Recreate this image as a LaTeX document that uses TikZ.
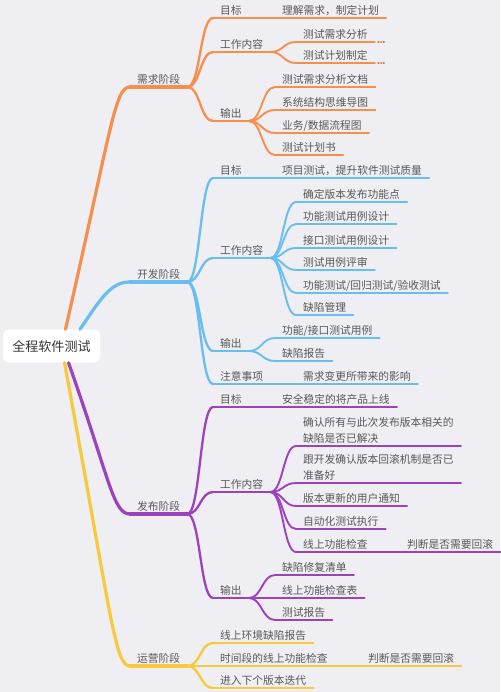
\documentclass[tikz,border=0pt]{standalone}
\usepackage{fontspec}
\setmainfont{Noto Sans CJK SC}
\usetikzlibrary{calc}
\definecolor{bg}{RGB}{239,238,243}
\definecolor{txt}{RGB}{88,88,88}
\definecolor{roottxt}{RGB}{50,50,50}
\definecolor{corange}{RGB}{246,143,77}
\definecolor{cblue}{RGB}{104,190,240}
\definecolor{cpurple}{RGB}{156,66,188}
\definecolor{cyellow}{RGB}{248,201,58}
\definecolor{cdots}{RGB}{232,96,48}
\colorlet{brc}{corange}
\newcommand{\twoline}[2]{\begin{tabular}[b]{@{}l@{}}#1\\#2\end{tabular}}
\tikzset{
  lbl/.style={anchor=south west, inner xsep=7pt, inner ysep=3pt, text depth=0pt, text height=8.5pt,
    font=\fontsize{10.75pt}{16pt}\selectfont, text=txt},
  n1/.style={lbl, append after command={(\tikzlastnode.south west) edge[draw=brc, line width=3.2pt, line cap=round] (\tikzlastnode.south east)}},
  n2/.style={lbl, append after command={(\tikzlastnode.south west) edge[draw=brc, line width=2.3pt, line cap=round] (\tikzlastnode.south east)}},
  n3/.style={lbl, append after command={(\tikzlastnode.south west) edge[draw=brc, line width=1.9pt, line cap=round] (\tikzlastnode.south east)}},
  sc/.style={to path={.. controls ($(\tikztostart)!0.5!(\tikztotarget|-\tikztostart)$) and ($(\tikztotarget)!0.5!(\tikztostart|-\tikztotarget)$) .. (\tikztotarget)}},
  c1/.style={draw=brc, line width=3.2pt, line cap=round},
  c2/.style={draw=brc, line width=2.3pt, line cap=round, sc},
  c3/.style={draw=brc, line width=1.9pt, line cap=round, sc},
  rootbox/.style={fill=white, rounded corners=5pt, minimum width=97pt, minimum height=33pt, inner sep=0pt,
    font=\fontsize{13pt}{15pt}\selectfont, text=roottxt},
}
\begin{document}
\begin{tikzpicture}[x=1pt, y=-1pt]
\fill[bg] (0,0) rectangle (500,692);
\useasboundingbox (0,0) rectangle (500,692);

% ---------- 需求阶段 (orange) ----------
\colorlet{brc}{corange}
\node[n1] (s1) at (130,87) {需求阶段};
\node[n2] (s1g) at (213,18) {目标};
\node[n3] (s1gl) at (275,18) {理解需求，制定计划};
\node[n2] (s1w) at (213,52) {工作内容};
\node[n3] (s1w1) at (296,42) {测试需求分析};
\node[n3] (s1w2) at (296,63) {测试计划制定};
\node[n2] (s1o) at (213,121) {输出};
\node[n3] (s1o1) at (275,87) {测试需求分析文档};
\node[n3] (s1o2) at (275,110) {系统结构思维导图};
\node[n3] (s1o3) at (275,133) {业务/数据流程图};
\node[n3] (s1o4) at (275,155) {测试计划书};
\draw[c2] (s1.south east) to (s1g.south west);
\draw[c2] (s1.south east) to (s1w.south west);
\draw[c2] (s1.south east) to (s1o.south west);
\draw[c3] (s1g.south east) to (s1gl.south west);
\draw[c3] (s1w.south east) to (s1w1.south west);
\draw[c3] (s1w.south east) to (s1w2.south west);
\draw[c3] (s1o.south east) to (s1o1.south west);
\draw[c3] (s1o.south east) to (s1o2.south west);
\draw[c3] (s1o.south east) to (s1o3.south west);
\draw[c3] (s1o.south east) to (s1o4.south west);
\foreach \k in {0,1,2} {
  \fill[cdots] ([xshift={3.5+2.7*\k}]s1w1.south east) circle (1.1pt);
  \fill[cdots] ([xshift={3.5+2.7*\k}]s1w2.south east) circle (1.1pt);
}

% ---------- 开发阶段 (blue) ----------
\colorlet{brc}{cblue}
\node[n1] (s2) at (130,282) {开发阶段};
\node[n2] (s2g) at (213,178) {目标};
\node[n3] (s2gl) at (275,178) {项目测试，提升软件测试质量};
\node[n2] (s2w) at (213,258) {工作内容};
\node[n3] (s2w1) at (296,202) {确定版本发布功能点};
\node[n3] (s2w2) at (296,224) {功能测试用例设计};
\node[n3] (s2w3) at (296,248) {接口测试用例设计};
\node[n3] (s2w4) at (296,270) {测试用例评审};
\node[n3] (s2w5) at (296,293) {功能测试/回归测试/验收测试};
\node[n3] (s2w6) at (296,315) {缺陷管理};
\node[n2] (s2o) at (213,351) {输出};
\node[n3] (s2o1) at (275,338) {功能/接口测试用例};
\node[n3] (s2o2) at (275,361) {缺陷报告};
\node[n2] (s2n) at (213,384) {注意事项};
\node[n3] (s2nl) at (296,384) {需求变更所带来的影响};
\draw[c2] (s2.south east) to (s2g.south west);
\draw[c2] (s2.south east) to (s2w.south west);
\draw[c2] (s2.south east) to (s2o.south west);
\draw[c2] (s2.south east) to (s2n.south west);
\draw[c3] (s2g.south east) to (s2gl.south west);
\foreach \c in {s2w1,s2w2,s2w3,s2w4,s2w5,s2w6}
  \draw[c3] (s2w.south east) to (\c.south west);
\draw[c3] (s2o.south east) to (s2o1.south west);
\draw[c3] (s2o.south east) to (s2o2.south west);
\draw[c3] (s2n.south east) to (s2nl.south west);

% ---------- 发布阶段 (purple) ----------
\colorlet{brc}{cpurple}
\node[n1] (s3) at (130,514) {发布阶段};
\node[n2] (s3g) at (213,407) {目标};
\node[n3] (s3gl) at (275,407) {安全稳定的将产品上线};
\node[n2] (s3w) at (213,492) {工作内容};
\node[n3] (s3w1) at (296,446) {\twoline{确认所有与此次发布版本相关的}{缺陷是否已解决}};
\node[n3] (s3w2) at (296,483) {\twoline{跟开发确认版本回滚机制是否已}{准备好}};
\node[n3] (s3w3) at (296,506) {版本更新的用户通知};
\node[n3] (s3w4) at (296,529) {自动化测试执行};
\node[n3] (s3w5) at (296,552) {线上功能检查};
\node[n3] (s3w5l) at (400,552) {判断是否需要回滚};
\node[n2] (s3o) at (213,598) {输出};
\node[n3] (s3o1) at (275,575) {缺陷修复清单};
\node[n3] (s3o2) at (275,598) {线上功能检查表};
\node[n3] (s3o3) at (275,620) {测试报告};
\draw[c2] (s3.south east) to (s3g.south west);
\draw[c2] (s3.south east) to (s3w.south west);
\draw[c2] (s3.south east) to (s3o.south west);
\draw[c3] (s3g.south east) to (s3gl.south west);
\foreach \c in {s3w1,s3w2,s3w3,s3w4,s3w5}
  \draw[c3] (s3w.south east) to (\c.south west);
\draw[c3] (s3w5.south east) to (s3w5l.south west);
\draw[c3] (s3o.south east) to (s3o1.south west);
\draw[c3] (s3o.south east) to (s3o2.south west);
\draw[c3] (s3o.south east) to (s3o3.south west);

% ---------- 运营阶段 (yellow) ----------
\colorlet{brc}{cyellow}
\node[n1] (s4) at (130,666) {运营阶段};
\node[n2] (s4a) at (213,643) {线上环境缺陷报告};
\node[n2] (s4b) at (213,666) {时间段的线上功能检查};
\node[n3] (s4bl) at (361,666) {判断是否需要回滚};
\node[n2] (s4c) at (213,688) {进入下个版本迭代};
\draw[c2] (s4.south east) to (s4a.south west);
\draw[c2] (s4.south east) to (s4b.south west);
\draw[c2] (s4.south east) to (s4c.south west);
\draw[c3] (s4b.south east) to (s4bl.south west);

% ---------- root and main branches ----------
\node[rootbox] (root) at (51.5,346) {全程软件测试};
\colorlet{brc}{corange}
\draw[c1] ([xshift=14pt]root.north) .. controls (112,125) and (115,87) .. (s1.south west);
\colorlet{brc}{cblue}
\draw[c1] ([xshift=28.5pt]root.north) .. controls (100,300) and (110,282) .. (s2.south west);
\colorlet{brc}{cpurple}
\draw[c1] ([xshift=17pt]root.south) .. controls (110,480) and (113,514) .. (s3.south west);
\colorlet{brc}{cyellow}
\draw[c1] ([xshift=13pt]root.south) .. controls (112,620) and (115,666) .. (s4.south west);
\end{tikzpicture}
\end{document}
